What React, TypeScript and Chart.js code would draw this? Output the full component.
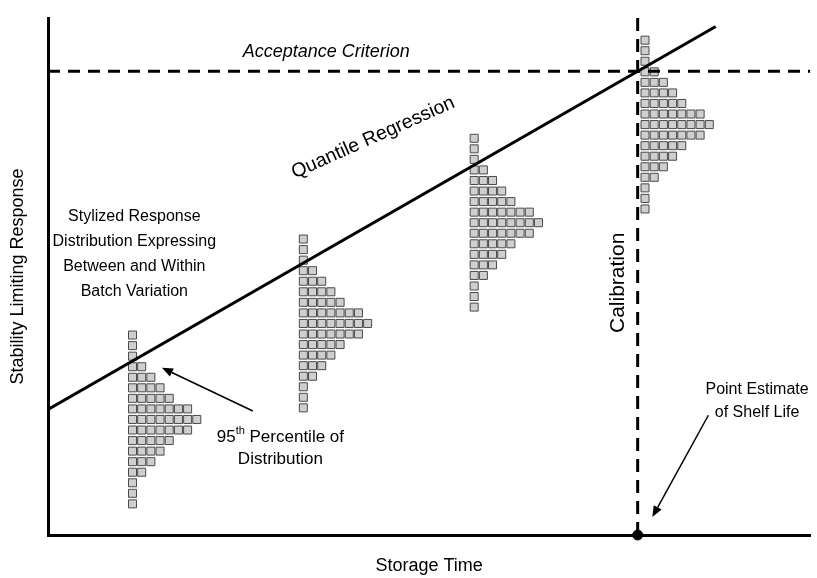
import React, { useEffect, useRef } from "react";
import { Chart, registerables } from "chart.js";

Chart.register(...registerables);

// ---- data (storage time units on x, response units on y) ----
const storageTimes = [9.2, 27.8, 46.4, 65.0];
const distributionCenters = [21.9, 40.1, 59.2, 77.8];
const binOffsets = [16, 14, 12, 10, 8, 6, 4, 2, 0, -2, -4, -6, -8, -10, -12, -14, -16];
const binCounts = [1, 1, 1, 2, 3, 4, 5, 7, 8, 7, 5, 4, 3, 2, 1, 1, 1];
const columnStep = 1;
const regressionTimes = [0, 72.7];
const regressionResponses = [23.8, 96.4];
const acceptanceCriterion = 87.9;
const shelfLife = 64.2;
const timeRange = [0, 83];
const responseRange = [0, 98];

const FONT = "'Liberation Sans', Arial, Helvetica, sans-serif";

type Seg = { text: string; sup?: boolean };
type Label = {
  lines: (string | Seg[])[];
  x: number;
  y: number;
  size: number;
  italic?: boolean;
  rotate?: number;
  gap?: number;
};

const labels: Label[] = [
  { lines: ["Acceptance Criterion"], x: 30.3, y: 91.5, size: 18, italic: true },
  { lines: ["Quantile Regression"], x: 35.4, y: 75.3, size: 19.5, rotate: -24 },
  {
    lines: ["Stylized Response", "Distribution Expressing", "Between and Within", "Batch Variation"],
    x: 9.4,
    y: 60.3,
    size: 16,
    gap: 25,
  },
  {
    lines: [[{ text: "95" }, { text: "th", sup: true }, { text: " Percentile of" }], "Distribution"],
    x: 25.3,
    y: 18.6,
    size: 17,
    gap: 22,
  },
  { lines: ["Calibration"], x: 62.1, y: 47.8, size: 21, rotate: -90 },
  { lines: ["Point Estimate", "of Shelf Life"], x: 77.2, y: 27.5, size: 16, gap: 23 },
];

const arrows = [
  { from: [22.3, 23.5], to: [12.4, 31.7] },
  { from: [71.9, 22.7], to: [65.8, 3.4] },
];

const annotationPlugin = {
  id: "annotations",
  afterDatasetsDraw(chart: any) {
    const { ctx } = chart;
    const sx = chart.scales.x;
    const sy = chart.scales.y;
    ctx.save();
    ctx.fillStyle = "#000";
    ctx.strokeStyle = "#000";
    for (const a of arrows) {
      const x1 = sx.getPixelForValue(a.from[0]);
      const y1 = sy.getPixelForValue(a.from[1]);
      const x2 = sx.getPixelForValue(a.to[0]);
      const y2 = sy.getPixelForValue(a.to[1]);
      const ang = Math.atan2(y2 - y1, x2 - x1);
      const hl = 11;
      const hw = 4.5;
      const bx = x2 - hl * Math.cos(ang);
      const by = y2 - hl * Math.sin(ang);
      ctx.lineWidth = 1.5;
      ctx.beginPath();
      ctx.moveTo(x1, y1);
      ctx.lineTo(bx, by);
      ctx.stroke();
      ctx.beginPath();
      ctx.moveTo(x2, y2);
      ctx.lineTo(bx + hw * Math.sin(ang), by - hw * Math.cos(ang));
      ctx.lineTo(bx - hw * Math.sin(ang), by + hw * Math.cos(ang));
      ctx.closePath();
      ctx.fill();
    }
    for (const l of labels) {
      const px = sx.getPixelForValue(l.x);
      const py = sy.getPixelForValue(l.y);
      ctx.save();
      ctx.translate(px, py);
      if (l.rotate) ctx.rotate((l.rotate * Math.PI) / 180);
      ctx.textBaseline = "middle";
      ctx.textAlign = "left";
      const base = `${l.italic ? "italic " : ""}${l.size}px ${FONT}`;
      const small = `${l.italic ? "italic " : ""}${Math.round(l.size * 0.62)}px ${FONT}`;
      l.lines.forEach((line, i) => {
        const segs: Seg[] = typeof line === "string" ? [{ text: line }] : line;
        let w = 0;
        for (const s of segs) {
          ctx.font = s.sup ? small : base;
          w += ctx.measureText(s.text).width;
        }
        let cx = -w / 2;
        const cy = i * (l.gap || 0);
        for (const s of segs) {
          ctx.font = s.sup ? small : base;
          ctx.fillText(s.text, cx, s.sup ? cy - l.size * 0.32 : cy);
          cx += ctx.measureText(s.text).width;
        }
      });
      ctx.restore();
    }
    ctx.restore();
  },
};

export default function App() {
  const ref = useRef<HTMLCanvasElement>(null);
  useEffect(() => {
    const canvas = ref.current!;
    const squares: { x: number; y: number }[] = [];
    storageTimes.forEach((t, d) => {
      binOffsets.forEach((off, b) => {
        for (let k = 0; k < binCounts[b]; k++) {
          squares.push({ x: t + k * columnStep, y: distributionCenters[d] + off });
        }
      });
    });
    const chart = new Chart(canvas, {
      type: "scatter",
      data: {
        datasets: [
          {
            label: "Quantile Regression",
            data: regressionTimes.map((x, i) => ({ x, y: regressionResponses[i] })),
            showLine: true,
            borderColor: "#000",
            borderWidth: 3,
            pointRadius: 0,
            order: 1,
          },
          {
            label: "Acceptance Criterion",
            data: timeRange.map((x) => ({ x, y: acceptanceCriterion })),
            showLine: true,
            borderColor: "#000",
            borderWidth: 3,
            borderDash: [12, 8],
            pointRadius: 0,
            order: 2,
          },
          {
            label: "Calibration",
            data: responseRange.map((y) => ({ x: shelfLife, y })),
            showLine: true,
            borderColor: "#000",
            borderWidth: 3,
            borderDash: [13, 8],
            pointRadius: 0,
            order: 2,
          },
          {
            label: "Shelf Life",
            data: [{ x: shelfLife, y: responseRange[0] }],
            pointRadius: 5,
            backgroundColor: "#000",
            borderColor: "#000",
            clip: false as any,
            order: 0,
          },
          {
            label: "Responses",
            data: squares,
            pointStyle: "rect",
            pointRadius: 5.66,
            backgroundColor: "#cfcfcf",
            borderColor: "#4a4a4a",
            borderWidth: 1,
            order: 5,
          },
        ],
      },
      options: {
        animation: false,
        responsive: false,
        events: [],
        layout: { padding: { left: 0, right: 0, top: 18, bottom: 0 } },
        plugins: { legend: { display: false }, tooltip: { enabled: false } },
        scales: {
          x: {
            type: "linear",
            min: timeRange[0],
            max: timeRange[1],
            ticks: { display: false },
            grid: { display: false, drawTicks: false },
            border: { display: true, color: "#000", width: 3 },
            title: {
              display: true,
              text: "Storage Time",
              color: "#000",
              font: { family: FONT, size: 18 },
              padding: { top: 20.2, bottom: 1.2 },
            },
          },
          y: {
            type: "linear",
            min: responseRange[0],
            max: responseRange[1],
            ticks: { display: false },
            grid: { display: false, drawTicks: false },
            border: { display: true, color: "#000", width: 3 },
            title: {
              display: true,
              text: "Stability Limiting Response",
              color: "#000",
              font: { family: FONT, size: 18 },
              padding: { top: 7.2, bottom: 19.2 },
            },
          },
        },
      },
      plugins: [annotationPlugin],
    });
    return () => chart.destroy();
  }, []);
  return (
    <div style={{ position: "fixed", left: 0, top: 0, width: 817, height: 578, background: "#fff" }}>
      <canvas ref={ref} width={817} height={578} style={{ display: "block" }} />
    </div>
  );
}
